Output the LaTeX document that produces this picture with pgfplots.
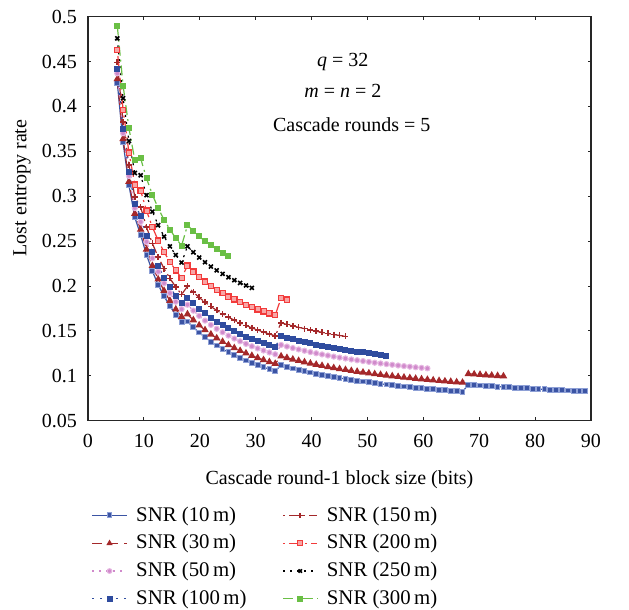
\documentclass[border=0pt]{standalone}
\usepackage{fontspec}
\setmainfont{Liberation Serif}
\usepackage{pgfplots}
\pgfplotsset{compat=1.18}
\usepackage{pgfplotstable}

\definecolor{c10}{HTML}{3B54A4}
\definecolor{c10e}{HTML}{8EA0D6}
\definecolor{c30}{HTML}{A4282A}
\definecolor{c50}{HTML}{D08ACB}
\definecolor{c50e}{HTML}{E6B8E2}
\definecolor{c100}{HTML}{2F4C9F}
\definecolor{c150}{HTML}{A4282A}
\definecolor{c200}{HTML}{F23B3B}
\definecolor{c200f}{HTML}{F8A5A5}
\definecolor{c300}{HTML}{6ABF45}

\pgfplotstableread{
x y10 y30 y50 y100 y150 y200 y250 y300
5.24 0.4265 0.4306 0.4369 0.4417 0.4492 0.4630 0.4759 0.4900
6.28 0.3598 0.3639 0.3702 0.3750 0.3825 0.3963 0.4092 0.4233
7.33 0.3122 0.3163 0.3226 0.3274 0.3349 0.3487 0.3616 0.3757
8.38 0.2765 0.2806 0.2869 0.2917 0.2992 0.3130 0.3259 0.3400
9.42 0.2569 0.2630 0.2714 0.2778 0.2878 0.3062 0.3234 0.3422
10.47 0.2347 0.2408 0.2492 0.2556 0.2656 0.2840 0.3012 0.3200
11.52 0.2165 0.2226 0.2310 0.2374 0.2474 0.2658 0.2830 0.3018
12.56 0.2014 0.2075 0.2159 0.2223 0.2323 0.2507 0.2679 0.2867
13.61 0.1886 0.1947 0.2031 0.2095 0.2195 0.2379 0.2551 0.2739
14.66 0.1776 0.1837 0.1921 0.1985 0.2085 0.2269 0.2441 0.2629
15.71 0.1680 0.1741 0.1825 0.1889 0.1989 0.2173 0.2345 0.2533
16.75 0.1597 0.1658 0.1742 0.1806 0.1906 0.2090 0.2262 0.2450
17.80 0.1606 0.1687 0.1792 0.1872 0.1997 0.2227 0.2442 0.2677
18.85 0.1540 0.1621 0.1726 0.1806 0.1931 0.2161 0.2376 0.2611
19.89 0.1482 0.1563 0.1668 0.1748 0.1873 0.2103 0.2318 0.2553
20.94 0.1429 0.1510 0.1615 0.1695 0.1820 0.2050 0.2265 0.2500
21.99 0.1381 0.1462 0.1567 0.1647 0.1772 0.2002 0.2217 0.2452
23.03 0.1338 0.1419 0.1524 0.1604 0.1729 0.1959 0.2174 0.2409
24.08 0.1299 0.1380 0.1485 0.1565 0.1690 0.1920 0.2135 0.2370
25.13 0.1262 0.1343 0.1448 0.1528 0.1653 0.1883 0.2098 0.2333
26.18 0.1229 0.1310 0.1415 0.1495 0.1620 0.1850 0.2065 nan
27.22 0.1198 0.1279 0.1384 0.1464 0.1589 0.1819 0.2034 nan
28.27 0.1170 0.1251 0.1356 0.1436 0.1561 0.1791 0.2006 nan
29.32 0.1143 0.1224 0.1329 0.1409 0.1534 0.1764 0.1979 nan
30.36 0.1119 0.1200 0.1305 0.1385 0.1510 0.1740 nan nan
31.41 0.1096 0.1177 0.1282 0.1362 0.1487 0.1717 nan nan
32.46 0.1074 0.1155 0.1260 0.1340 0.1465 0.1695 nan nan
33.50 0.1054 0.1135 0.1240 0.1320 0.1445 0.1675 nan nan
34.55 0.1117 0.1218 0.1344 0.1440 0.1590 0.1866 nan nan
35.60 0.1099 0.1200 0.1326 0.1422 0.1572 0.1848 nan nan
36.65 0.1082 0.1183 0.1309 0.1405 0.1555 nan nan nan
37.69 0.1067 0.1168 0.1294 0.1390 0.1540 nan nan nan
38.74 0.1052 0.1153 0.1279 0.1375 0.1525 nan nan nan
39.79 0.1037 0.1138 0.1264 0.1360 0.1510 nan nan nan
40.83 0.1024 0.1125 0.1251 0.1347 0.1497 nan nan nan
41.88 0.1011 0.1112 0.1238 0.1334 0.1484 nan nan nan
42.93 0.0999 0.1100 0.1226 0.1322 0.1472 nan nan nan
43.97 0.0987 0.1088 0.1214 0.1310 0.1460 nan nan nan
45.02 0.0976 0.1077 0.1203 0.1299 0.1449 nan nan nan
46.07 0.0966 0.1067 0.1193 0.1289 0.1439 nan nan nan
47.12 0.0955 0.1056 0.1182 0.1278 nan nan nan nan
48.16 0.0946 0.1047 0.1173 0.1269 nan nan nan nan
49.21 0.0937 0.1038 0.1164 0.1260 nan nan nan nan
50.26 0.0928 0.1029 0.1155 0.1251 nan nan nan nan
51.30 0.0919 0.1020 0.1146 0.1242 nan nan nan nan
52.35 0.0911 0.1012 0.1138 0.1234 nan nan nan nan
53.40 0.0903 0.1004 0.1130 0.1226 nan nan nan nan
54.44 0.0896 0.0997 0.1123 nan nan nan nan nan
55.49 0.0888 0.0989 0.1115 nan nan nan nan nan
56.54 0.0881 0.0982 0.1108 nan nan nan nan nan
57.59 0.0875 0.0976 0.1102 nan nan nan nan nan
58.63 0.0868 0.0969 0.1095 nan nan nan nan nan
59.68 0.0862 0.0963 0.1089 nan nan nan nan nan
60.73 0.0856 0.0957 0.1083 nan nan nan nan nan
61.77 0.0850 0.0951 nan nan nan nan nan nan
62.82 0.0844 0.0945 nan nan nan nan nan nan
63.87 0.0839 0.0940 nan nan nan nan nan nan
64.91 0.0834 0.0935 nan nan nan nan nan nan
65.96 0.0829 0.0930 nan nan nan nan nan nan
67.01 0.0824 0.0925 nan nan nan nan nan nan
68.06 0.0901 0.1022 nan nan nan nan nan nan
69.10 0.0896 0.1017 nan nan nan nan nan nan
70.15 0.0892 0.1013 nan nan nan nan nan nan
71.20 0.0887 0.1008 nan nan nan nan nan nan
72.24 0.0883 0.1004 nan nan nan nan nan nan
73.29 0.0879 0.1000 nan nan nan nan nan nan
74.34 0.0875 0.0996 nan nan nan nan nan nan
75.38 0.0871 nan nan nan nan nan nan nan
76.43 0.0867 nan nan nan nan nan nan nan
77.48 0.0863 nan nan nan nan nan nan nan
78.53 0.0860 nan nan nan nan nan nan nan
79.57 0.0856 nan nan nan nan nan nan nan
80.62 0.0853 nan nan nan nan nan nan nan
81.67 0.0849 nan nan nan nan nan nan nan
82.71 0.0846 nan nan nan nan nan nan nan
83.76 0.0843 nan nan nan nan nan nan nan
84.81 0.0840 nan nan nan nan nan nan nan
85.85 0.0837 nan nan nan nan nan nan nan
86.90 0.0834 nan nan nan nan nan nan nan
87.95 0.0831 nan nan nan nan nan nan nan
89.00 0.0828 nan nan nan nan nan nan nan
}\data

\begin{document}
\begin{tikzpicture}
\useasboundingbox (-44pt,-94.65pt) rectangle (270.5pt,210.35pt);
\begin{axis}[
  at={(0,0)}, anchor=south west,
  scale only axis, width=251.5pt, height=202pt,
  xmin=0, xmax=90, ymin=0.05, ymax=0.5,
  xtick={0,10,...,90},
  ytick={0.05,0.1,0.15,0.2,0.25,0.3,0.35,0.4,0.45,0.5},
  tick align=inside, major tick length=1.6pt,
  axis line style={line width=0.6pt, black!85},
  every tick/.style={black!85, line width=0.5pt},
  /pgf/number format/assume math mode=true,
  scaled y ticks=false,
  yticklabel style={/pgf/number format/fixed, /pgf/number format/precision=2, xshift=-2pt},
  xticklabel style={yshift=-3pt},
  xlabel={Cascade round-1 block size (bits)},
  ylabel={Lost entropy rate},
  every axis x label/.style={at={(axis description cs:0.5,-0.159)}, anchor=base},
  every axis y label/.style={at={(axis description cs:-0.131,0.576)}, rotate=90, anchor=center},
  legend columns=2,
  legend cell align=left,
  legend style={draw=none, fill=none, at={(axis description cs:-0.005,-0.192)}, anchor=north west,
    row sep=1.2pt, font=\fontsize{10.4}{12}\selectfont,
    /tikz/every odd column/.append style={column sep=2.5pt},
    /tikz/every even column/.append style={column sep=16pt}},
  legend image post style={mark size=1.2pt},
  unbounded coords=discard,
]
\addplot[c10, line width=0.6pt, mark=square*, mark size=1.2pt, mark options={solid, fill=c10, draw=c10e, line width=0.5pt}]
  table[x=x, y=y10] {\data};
\addlegendentry{SNR (10\,m)}
\addplot[c150, line width=0.6pt, dash pattern=on 1pt off 2pt on 5pt off 2pt, mark=+, mark size=1.5pt, mark options={solid, line width=0.8pt}]
  table[x=x, y=y150] {\data};
\addlegendentry{SNR (150\,m)}
\addplot[c30, line width=0.6pt, dash pattern=on 5pt off 3pt, mark=triangle*, mark size=1.6pt, mark options={solid, fill=c30}]
  table[x=x, y=y30] {\data};
\addlegendentry{SNR (30\,m)}
\addplot[c200, line width=0.6pt, dash pattern=on 1pt off 2pt on 6pt off 2pt, mark=square*, mark size=1.3pt, mark options={solid, fill=c200f, draw=c200, line width=0.6pt}]
  table[x=x, y=y200] {\data};
\addlegendentry{SNR (200\,m)}
\addplot[c50, line width=0.6pt, dash pattern=on 1pt off 2.5pt, mark=*, mark size=1.3pt, mark options={solid, fill=c50, draw=c50e, line width=0.5pt}]
  table[x=x, y=y50] {\data};
\addlegendentry{SNR (50\,m)}
\addplot[black, line width=0.6pt, dash pattern=on 1pt off 2.5pt, mark=x, mark size=1.4pt, mark options={solid, line width=0.8pt}]
  table[x=x, y=y250] {\data};
\addlegendentry{SNR (250\,m)}
\addplot[c100, line width=0.6pt, dash pattern=on 1pt off 3pt, mark=square*, mark size=1.2pt, mark options={solid, fill=c100, draw=c100}]
  table[x=x, y=y100] {\data};
\addlegendentry{SNR (100\,m)}
\addplot[c300, line width=0.6pt, dash pattern=on 5pt off 2pt on 1pt off 2pt, mark=square*, mark size=1.2pt, mark options={solid, fill=c300, draw=c300}]
  table[x=x, y=y300] {\data};
\addlegendentry{SNR (300\,m)}

\node at (axis cs:45.6,0.4495) {\textit{q} = 32};
\node at (axis cs:45.6,0.4172) {\textit{m} = \textit{n} = 2};
\node at (axis cs:47.2,0.3793) {Cascade rounds = 5};
\end{axis}
\end{tikzpicture}
\end{document}
